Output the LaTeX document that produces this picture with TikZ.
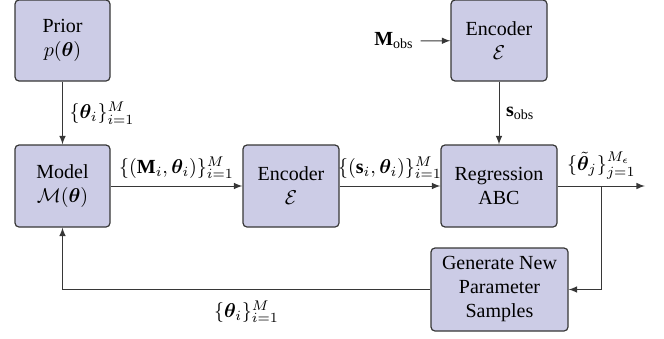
\documentclass[tikz,border=0pt]{standalone}
\usepackage{amsmath,bm}
\usepackage{fontspec}
\setmainfont{Liberation Serif}
\definecolor{boxfill}{RGB}{204,204,230}
\definecolor{edge}{RGB}{55,55,55}
\tikzset{
  block/.style={draw=edge, fill=boxfill, rounded corners=2pt, line width=0.6pt,
    align=center, inner sep=0pt},
  flow/.style={->, >=latex, draw=edge, line width=0.5pt},
}

\begin{document}
\begin{tikzpicture}[x=0.5pt, y=-0.5pt]
    \useasboundingbox (0,0) rectangle (664,338);
    % boxes
    \node[block, minimum width=47.5pt, minimum height=40.5pt] (prior) at (62.5,40.5) {Prior\\$p(\bm{\theta})$};
    \node[block, minimum width=47.5pt, minimum height=41pt] (model) at (62.5,186) {Model\\$\mathcal{M}(\bm{\theta})$};
    \node[block, minimum width=48pt, minimum height=41pt] (enc) at (291,186) {Encoder\\$\mathcal{E}$};
    \node[block, minimum width=58pt, minimum height=41pt] (reg) at (499,186) {Regression\\ABC};
    \node[block, minimum width=48pt, minimum height=40.5pt] (encobs) at (499,40.5) {Encoder\\$\mathcal{E}$};
    \node[block, minimum width=68.5pt, minimum height=41.5pt] (gen) at (499.5,289.5) {Generate New\\Parameter\\Samples};
    \node (mobs) at (394,41) {$\mathbf{M}_{\mathrm{obs}}$};
    \coordinate (out) at (645,186);
    \coordinate (split) at (601,186);
    % connectors
    \draw[flow] (prior) -- node[right]{$\{\bm{\theta}_i\}_{i=1}^{M}$} (model);
    \draw[flow] (model) -- node[above]{$\{(\mathbf{M}_i,\bm{\theta}_i)\}_{i=1}^{M}$} (enc);
    \draw[flow] (enc) -- node[above]{$\{(\mathbf{s}_i,\bm{\theta}_i)\}_{i=1}^{M}$} (reg);
    \draw[flow] (encobs) -- node[right]{$\mathbf{s}_{\mathrm{obs}}$} (reg);
    \draw[flow] (mobs) -- (encobs);
    \draw[flow] (reg) -- node[above, pos=0.5]{$\{\tilde{\bm{\theta}}_j\}_{j=1}^{M_\epsilon}$} (out);
    \draw[flow] (split) |- (gen.east);
    \draw[flow] (gen.west) -| node[below=2pt, pos=0.25]{$\{\bm{\theta}_i\}_{i=1}^{M}$} (model.south);
\end{tikzpicture}
\end{document}
